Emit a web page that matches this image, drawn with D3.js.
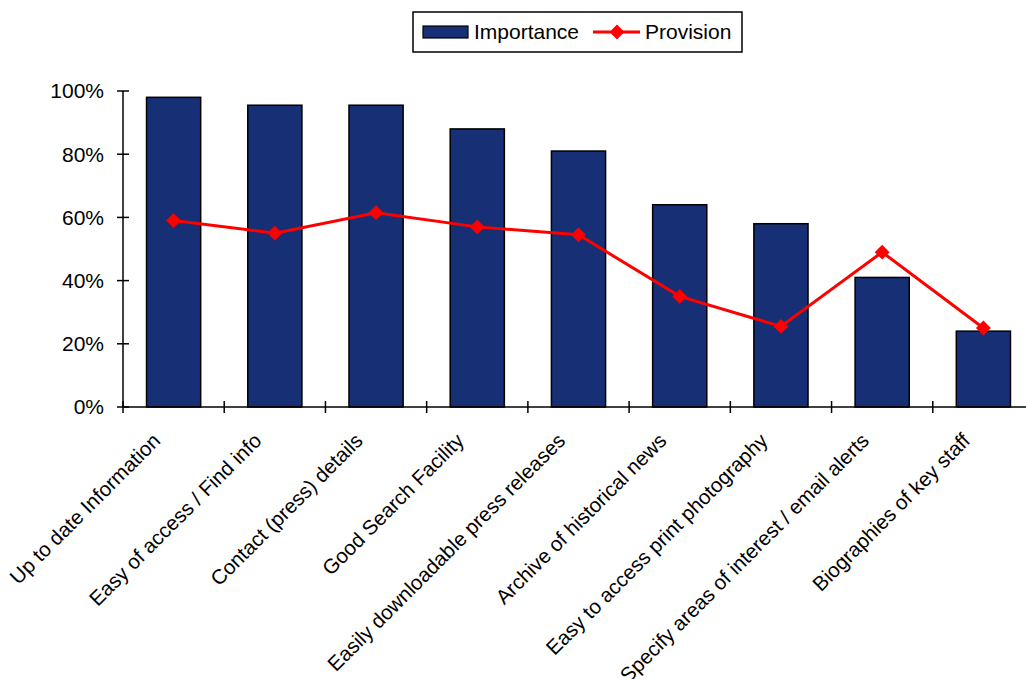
<!DOCTYPE html>
<html>
<head>
<meta charset="utf-8">
<script src="https://cdn.jsdelivr.net/npm/d3@7/dist/d3.min.js"></script>
<style>
  html, body { margin: 0; padding: 0; background: #fff; }
  svg { display: block; font-family: "Liberation Sans", Arial, sans-serif; }
</style>
</head>
<body>
<svg id="chart" width="1026" height="679"></svg>
<script>
// Survey results: how important each feature is vs. how well it is provided
const categories = [
  "Up to date Information",
  "Easy of access / Find info",
  "Contact (press) details",
  "Good Search Facility",
  "Easily downloadable press releases",
  "Archive of historical news",
  "Easy to access print photography",
  "Specify areas of interest / email alerts",
  "Biographies of key staff"
];
const importance = [0.98, 0.955, 0.955, 0.88, 0.81, 0.64, 0.58, 0.41, 0.24];
const provision  = [0.59, 0.55, 0.615, 0.57, 0.545, 0.35, 0.255, 0.49, 0.25];
const yTicks = [0, 0.2, 0.4, 0.6, 0.8, 1.0];
const seriesNames = ["Importance", "Provision"];

const barColor = "#172f74";
const lineColor = "#ff0000";
const fontSize = 21;

const svg = d3.select("#chart");
const plot = { left: 123, right: 1034, top: 91, bottom: 407 };

const x = d3.scaleBand().domain(categories).range([plot.left, plot.right]).paddingInner(0).paddingOuter(0);
const y = d3.scaleLinear().domain([0, 1]).range([plot.bottom, plot.top]);

const barW = x.bandwidth() * 0.535;

// Bars
svg.append("g").selectAll("rect").data(categories).join("rect")
  .attr("x", d => x(d) + (x.bandwidth() - barW) / 2)
  .attr("y", (d, i) => y(importance[i]))
  .attr("width", barW)
  .attr("height", (d, i) => y(0) - y(importance[i]))
  .attr("fill", barColor)
  .attr("stroke", "#000")
  .attr("stroke-width", 1.5);

// Y axis
const yAxis = svg.append("g");
yAxis.append("line").attr("x1", plot.left).attr("x2", plot.left).attr("y1", y(1)).attr("y2", y(0))
  .attr("stroke", "#000").attr("stroke-width", 1.5);
yAxis.selectAll("line.tk").data(yTicks).join("line").attr("class", "tk")
  .attr("x1", plot.left - 6).attr("x2", plot.left + 6)
  .attr("y1", d => y(d)).attr("y2", d => y(d))
  .attr("stroke", "#000").attr("stroke-width", 1.5);
yAxis.selectAll("text").data(yTicks).join("text")
  .attr("x", plot.left - 19).attr("y", d => y(d)).attr("dy", "0.35em")
  .attr("text-anchor", "end").attr("font-size", fontSize).attr("fill", "#000")
  .text(d3.format(".0%"));

// X axis
const xAxis = svg.append("g");
xAxis.append("line").attr("x1", plot.left).attr("x2", 1026).attr("y1", plot.bottom).attr("y2", plot.bottom)
  .attr("stroke", "#000").attr("stroke-width", 1.5);
const tickPos = categories.map(d => x(d)).concat([x.range()[1]]);
xAxis.selectAll("line.tk").data(tickPos).join("line").attr("class", "tk")
  .attr("x1", d => d).attr("x2", d => d)
  .attr("y1", plot.bottom - 6).attr("y2", plot.bottom + 6)
  .attr("stroke", "#000").attr("stroke-width", 1.5);
xAxis.selectAll("text").data(categories).join("text")
  .attr("transform", d => `translate(${x(d) + x.bandwidth() / 2 - 12},${plot.bottom + 35}) rotate(-45)`)
  .attr("text-anchor", "end").attr("font-size", 20.5).attr("fill", "#000")
  .text(d => d);

// Provision line with diamond markers
const line = d3.line().x((d, i) => x(categories[i]) + x.bandwidth() / 2).y(d => y(d));
svg.append("path").datum(provision).attr("d", line)
  .attr("fill", "none").attr("stroke", lineColor).attr("stroke-width", 3);
const diamond = d3.symbol().type(d3.symbolSquare).size(110);
svg.append("g").selectAll("path").data(provision).join("path")
  .attr("d", diamond)
  .attr("transform", (d, i) => `translate(${x(categories[i]) + x.bandwidth() / 2},${y(d)}) rotate(45)`)
  .attr("fill", lineColor);

// Legend
const lg = svg.append("g");
lg.append("rect").attr("x", 413).attr("y", 12).attr("width", 329).attr("height", 40)
  .attr("fill", "#fff").attr("stroke", "#000").attr("stroke-width", 1.5);
lg.append("rect").attr("x", 423).attr("y", 26).attr("width", 45).attr("height", 12)
  .attr("fill", barColor).attr("stroke", "#000").attr("stroke-width", 1.2);
lg.append("text").attr("x", 474).attr("y", 32).attr("dy", "0.35em")
  .attr("font-size", fontSize).text(seriesNames[0]);
lg.append("line").attr("x1", 593).attr("x2", 640).attr("y1", 32).attr("y2", 32)
  .attr("stroke", lineColor).attr("stroke-width", 3);
lg.append("path").attr("d", diamond).attr("transform", "translate(617,32) rotate(45)")
  .attr("fill", lineColor);
lg.append("text").attr("x", 645).attr("y", 32).attr("dy", "0.35em")
  .attr("font-size", fontSize).text(seriesNames[1]);
</script>
</body>
</html>
